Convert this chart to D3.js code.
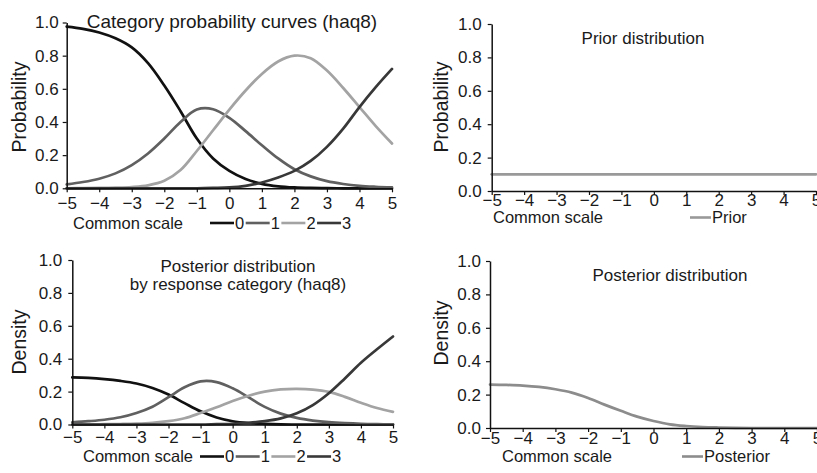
<!DOCTYPE html>
<html>
<head>
<meta charset="utf-8">
<script src="https://cdn.jsdelivr.net/npm/d3@7"></script>
<style>
  html, body { margin: 0; padding: 0; background: #fff; }
  svg { display: block; font-family: "Liberation Sans", Arial, Helvetica, sans-serif; }
</style>
</head>
<body>
<svg id="chart" width="817" height="473"></svg>
<script>
// ---------------- DATA ----------------
const scalePoints = [-5,-4.5,-4,-3.5,-3,-2.5,-2,-1.5,-1,-0.5,0,0.5,1,1.5,2,2.5,3,3.5,4,4.5,5];
const xTicks = [-5,-4,-3,-2,-1,0,1,2,3,4,5];
const yTicks = [0,0.2,0.4,0.6,0.8,1.0];
const categories = ["0","1","2","3"];

// Category probability curves (haq8)
const prob0 = [0.975,0.962,0.94,0.905,0.85,0.755,0.62,0.465,0.30,0.18,0.105,0.056,0.027,0.012,0.005,0.002,0.001,0,0,0,0];
const prob1 = [0.024,0.038,0.058,0.09,0.14,0.21,0.30,0.40,0.475,0.477,0.425,0.345,0.26,0.18,0.115,0.072,0.043,0.026,0.015,0.009,0.005];
const prob2 = [0,0.001,0.002,0.004,0.008,0.018,0.045,0.11,0.225,0.35,0.475,0.59,0.69,0.765,0.80,0.785,0.71,0.605,0.49,0.375,0.27];
const prob3 = [0,0,0,0,0,0,0,0,0,0.002,0.005,0.015,0.035,0.065,0.105,0.165,0.25,0.36,0.49,0.61,0.72];

// Prior distribution
const prior = [0.1,0.1,0.1,0.1,0.1,0.1,0.1,0.1,0.1,0.1,0.1,0.1,0.1,0.1,0.1,0.1,0.1,0.1,0.1,0.1,0.1];

// Posterior distribution by response category (haq8)
const dens0 = [0.286,0.283,0.276,0.265,0.249,0.222,0.182,0.13,0.08,0.043,0.02,0.009,0.004,0.001,0,0,0,0,0,0,0];
const dens1 = [0.013,0.02,0.029,0.044,0.07,0.108,0.166,0.226,0.262,0.258,0.22,0.165,0.107,0.066,0.04,0.024,0.014,0.008,0.004,0.002,0.001];
const dens2 = [0.001,0.001,0.002,0.003,0.005,0.01,0.02,0.038,0.07,0.105,0.143,0.175,0.2,0.213,0.216,0.212,0.198,0.168,0.132,0.10,0.077];
const dens3 = [0,0,0,0,0,0,0,0,0,0.002,0.004,0.01,0.02,0.037,0.068,0.118,0.19,0.28,0.375,0.457,0.535];

// Posterior distribution
const posterior = [0.26,0.258,0.254,0.246,0.232,0.212,0.18,0.14,0.103,0.068,0.042,0.022,0.012,0.006,0.003,0.001,0,0,0,0,0];

// ---------------- STYLE / LAYOUT ----------------
const catColors = ["#111111","#606060","#a3a3a3","#383838"];
const FS = 16.5;
const TICKFS = 17;

const svg = d3.select("#chart");

const panels = [
  { left:66.7, right:392, top:22.5, bottom:188.3, ylabel:"Probability", ylabX:18.5, ylabY:107,
    title:["Category probability curves (haq8)"], titleX:232, titleY:[28], titleFS:19,
    tickPad:4.5, ytickGap:4,
    series:[prob0,prob1,prob2,prob3], colors:catColors, legendNames:categories,
    legendLabelX:73, legendY:228.5, legendStart:210 },
  { left:491.7, right:816, top:24, bottom:191, ylabel:"Probability", ylabX:441, ylabY:107,
    title:["Prior distribution"], titleX:643, titleY:[44], titleFS:17,
    tickPad:-1.5, ytickGap:6,
    series:[prior], colors:["#999999"], legendNames:["Prior"],
    legendLabelX:493, legendY:223, legendStart:690 },
  { left:72.3, right:393, top:260, bottom:424.5, ylabel:"Density", ylabX:18.5, ylabY:342,
    title:["Posterior distribution","by response category (haq8)"], titleX:238, titleY:[272,290], titleFS:17,
    tickPad:2.5, ytickGap:6,
    series:[dens0,dens1,dens2,dens3], colors:catColors, legendNames:categories,
    legendLabelX:83, legendY:462, legendStart:200 },
  { left:490, right:817, top:261, bottom:428, ylabel:"Density", ylabX:441, ylabY:333,
    title:["Posterior distribution"], titleX:670, titleY:[281], titleFS:17,
    tickPad:0, ytickGap:5,
    series:[posterior], colors:["#8c8c8c"], legendNames:["Posterior"],
    legendLabelX:502, legendY:462, legendStart:682 }
];

const fmtX = d3.format("d");
const fmtY = d3.format(".1f");

panels.forEach(p => {
  const x = d3.scaleLinear().domain([-5,5]).range([p.left, p.right]);
  const y = d3.scaleLinear().domain([0,1]).range([p.bottom, p.top]);
  const g = svg.append("g");

  // lines
  const line = d3.line()
    .x((d,i) => x(scalePoints[i]))
    .y(d => y(d))
    .curve(d3.curveCatmullRom.alpha(0.5));

  p.series.forEach((s, k) => {
    g.append("path")
      .datum(s)
      .attr("d", line)
      .attr("fill", "none")
      .attr("stroke", p.colors[k])
      .attr("stroke-width", 2.7)
      .attr("stroke-linejoin", "round")
      .attr("stroke-linecap", "round");
  });

  // axes
  const xAxis = d3.axisBottom(x).tickValues(xTicks).tickFormat(fmtX)
    .tickSize(4).tickSizeOuter(0).tickPadding(p.tickPad);
  const yAxis = d3.axisLeft(y).tickValues(yTicks).tickFormat(fmtY)
    .tickSize(4).tickSizeOuter(0).tickPadding(p.ytickGap);

  const gx = g.append("g").attr("transform", `translate(0,${p.bottom})`).call(xAxis);
  const gy = g.append("g").attr("transform", `translate(${p.left},0)`).call(yAxis);
  [gx, gy].forEach(a => {
    a.selectAll("path.domain").attr("stroke", "#111").attr("stroke-width", 1.5);
    a.selectAll(".tick line").attr("stroke", "#111").attr("stroke-width", 1.2);
    a.selectAll(".tick text").attr("fill", "#1a1a1a")
      .style("font-size", TICKFS + "px")
      .style("font-family", "'Liberation Sans', Arial, Helvetica, sans-serif");
  });

  // y label
  g.append("text")
    .attr("transform", `translate(${p.ylabX},${p.ylabY}) rotate(-90)`)
    .attr("text-anchor", "middle")
    .attr("dominant-baseline", "central")
    .attr("fill", "#1a1a1a")
    .style("font-size", "19.5px")
    .text(p.ylabel);

  // title
  p.title.forEach((t, i) => {
    g.append("text")
      .attr("x", p.titleX).attr("y", p.titleY[i])
      .attr("text-anchor", "middle")
      .attr("fill", "#1a1a1a")
      .style("font-size", p.titleFS + "px")
      .text(t);
  });

  // legend
  g.append("text")
    .attr("x", p.legendLabelX).attr("y", p.legendY)
    .attr("fill", "#1a1a1a")
    .style("font-size", FS + "px")
    .text("Common scale");

  let cx = p.legendStart;
  const lineLen = p.series.length > 1 ? 24 : 21;
  p.legendNames.forEach((name, k) => {
    g.append("line")
      .attr("x1", cx).attr("x2", cx + lineLen)
      .attr("y1", p.legendY - 5.5).attr("y2", p.legendY - 5.5)
      .attr("stroke", p.colors[k]).attr("stroke-width", 2.6);
    const t = g.append("text")
      .attr("x", cx + lineLen + 1).attr("y", p.legendY)
      .attr("fill", "#1a1a1a")
      .style("font-size", FS + "px")
      .text(name);
    const w = t.node().getComputedTextLength();
    cx = cx + lineLen + 1 + w + 1.5;
  });
});
</script>
</body>
</html>
